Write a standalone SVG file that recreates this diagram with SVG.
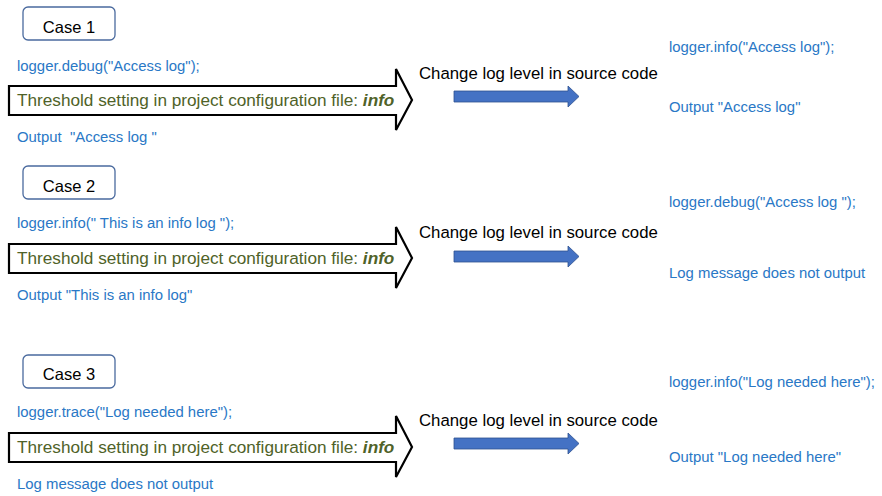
<svg xmlns="http://www.w3.org/2000/svg" width="882" height="496" viewBox="0 0 882 496">
<style>
.box{fill:#fff;stroke:#4A6A9E;stroke-width:1.3}
.case{font-family:"Liberation Sans",Arial,sans-serif;font-size:16.5px;fill:#000}
.code{font-family:"Liberation Sans",Arial,sans-serif;font-size:14.9px;fill:#2A78C6}
.thr{font-family:"Liberation Sans",Arial,sans-serif;font-size:17.2px;fill:#4F6228}
.thr .b{font-weight:bold;font-style:italic}
.chg{font-family:"Liberation Sans",Arial,sans-serif;font-size:16.8px;fill:#000}
.big{fill:#fff;stroke:#000;stroke-width:2.2;stroke-linejoin:miter}
.blue{fill:#4472C4;stroke:#2F528F;stroke-width:0.8}
</style>
<defs>
<path id="bigArrow" class="big" d="M9,86 H396 V69 L412,100 L396,130 V115 H9 Z"/>
<path id="blueArrow" class="blue" d="M454,91 H568 V86 L579,96.5 L568,107 V102 H454 Z"/>
</defs>

<g id="case1">
<rect class="box" x="23" y="7" width="92" height="33" rx="5"/>
<text class="case" x="69" y="33" text-anchor="middle">Case 1</text>
<text class="code" x="17" y="71">logger.debug("Access log");</text>
<use href="#bigArrow"/>
<text class="thr" x="17" y="106">Threshold setting in project configuration file: <tspan class="b">info</tspan></text>
<text class="code" x="17" y="142" xml:space="preserve">Output  "Access log "</text>
<text class="chg" x="419" y="79">Change log level in source code</text>
<text class="code" x="669" y="52">logger.info("Access log");</text>
<text class="code" x="669" y="112">Output "Access log"</text>
</g>

<g id="case2">
<rect class="box" x="23" y="166" width="92" height="33" rx="5"/>
<text class="case" x="69" y="192" text-anchor="middle">Case 2</text>
<text class="code" x="17" y="228">logger.info(" This is an info log ");</text>
<use href="#bigArrow" transform="translate(0,158)"/>
<text class="thr" x="17" y="264">Threshold setting in project configuration file: <tspan class="b">info</tspan></text>
<text class="code" x="17" y="300">Output "This is an info log"</text>
<text class="chg" x="419" y="238">Change log level in source code</text>
<text class="code" x="669" y="207">logger.debug("Access log ");</text>
<text class="code" x="669" y="278">Log message does not output</text>
</g>

<g id="case3">
<rect class="box" x="23" y="355" width="92" height="33" rx="5"/>
<text class="case" x="69" y="380" text-anchor="middle">Case 3</text>
<text class="code" x="17" y="417">logger.trace("Log needed here");</text>
<use href="#bigArrow" transform="translate(0,347)"/>
<text class="thr" x="17" y="453">Threshold setting in project configuration file: <tspan class="b">info</tspan></text>
<text class="code" x="17" y="489">Log message does not output</text>
<text class="chg" x="419" y="426">Change log level in source code</text>
<text class="code" x="669" y="387">logger.info("Log needed here");</text>
<text class="code" x="669" y="462">Output "Log needed here"</text>
</g>

<g id="connectors">
<use href="#blueArrow"/>
<use href="#blueArrow" transform="translate(0,160)"/>
<use href="#blueArrow" transform="translate(0,347)"/>
</g>
</svg>
